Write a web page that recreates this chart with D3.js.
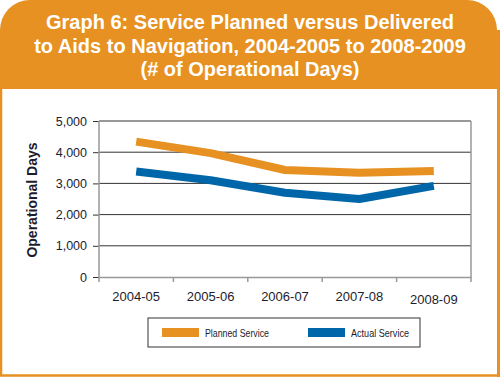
<!DOCTYPE html>
<html>
<head>
<meta charset="utf-8">
<script src="https://cdn.jsdelivr.net/npm/d3@7"></script>
<style>
  html, body { margin: 0; padding: 0; background: #fff; }
  svg { display: block; }
</style>
</head>
<body>
<script>
// chart data
const years = ['2004-05', '2005-06', '2006-07', '2007-08', '2008-09'];
const planned = [4340, 3970, 3430, 3340, 3400];
const actual = [3380, 3100, 2700, 2500, 2920];
const yTicks = [0, 1000, 2000, 3000, 4000, 5000];
const titleLines = [
  'Graph 6: Service Planned versus Delivered',
  'to Aids to Navigation, 2004-2005 to 2008-2009',
  '(# of Operational Days)'
];
const seriesNames = ['Planned Service', 'Actual Service'];
const legendWidths = [64, 58];

const W = 500, H = 377;
const orange = '#e69121';
const blue = '#0066aa';
const textCol = '#1c1c2c';

const svg = d3.select('body').append('svg')
  .attr('width', W)
  .attr('height', H);

// frame: white panel with orange border, orange header with round top corners
svg.append('rect')
  .attr('x', 1).attr('y', 60)
  .attr('width', W - 2.5).attr('height', H - 61.5)
  .attr('fill', '#fff')
  .attr('stroke', orange)
  .attr('stroke-width', 2.5);

const r = 30, hh = 89;
svg.append('path')
  .attr('d', `M0,${hh} L0,${r} A${r},${r} 0 0 1 ${r},0 L${W - r - 3},0 A${r},${r} 0 0 1 ${W - 3},${r} L${W - 3},${hh} Z`)
  .attr('fill', orange);
svg.append('rect')
  .attr('x', W - 3).attr('y', 30).attr('width', 3).attr('height', H - 30)
  .attr('fill', orange);

svg.append('g')
  .selectAll('text')
  .data(titleLines)
  .join('text')
  .attr('x', W / 2)
  .attr('y', (d, i) => 29 + i * 23.5)
  .attr('text-anchor', 'middle')
  .attr('fill', '#fff')
  .attr('font-family', '"Liberation Sans", Arial, sans-serif')
  .attr('font-weight', 'bold')
  .attr('font-size', 20)
  .text(d => d);

// plot area
const plot = { left: 99, right: 471, top: 121, bottom: 277 };

const x = d3.scaleBand()
  .domain(years)
  .range([plot.left, plot.right]);

const y = d3.scaleLinear()
  .domain([0, 5000])
  .range([plot.bottom, plot.top]);

// y ticks and labels
const yAxis = svg.append('g')
  .attr('transform', `translate(${plot.left},0)`)
  .call(d3.axisLeft(y)
    .tickValues(yTicks)
    .tickSize(6)
    .tickFormat(d3.format(',')));
yAxis.select('.domain').remove();
yAxis.selectAll('.tick line').attr('stroke', '#333');
yAxis.selectAll('.tick text')
  .attr('x', -12)
  .attr('fill', textCol)
  .attr('font-family', '"Liberation Sans", Arial, sans-serif')
  .attr('font-size', 12.5);

svg.append('g')
  .selectAll('line')
  .data(yTicks.filter(d => d > 0))
  .join('line')
  .attr('x1', plot.left).attr('x2', plot.right)
  .attr('y1', d => y(d)).attr('y2', d => y(d))
  .attr('stroke', '#333')
  .attr('stroke-width', 1);

// frame of plot: left axis, right border
svg.append('line')
  .attr('x1', plot.left).attr('x2', plot.left)
  .attr('y1', plot.top).attr('y2', plot.bottom + 5)
  .attr('stroke', '#999').attr('stroke-width', 1.5);
svg.append('line')
  .attr('x1', plot.right).attr('x2', plot.right)
  .attr('y1', plot.top).attr('y2', plot.bottom + 5)
  .attr('stroke', '#999').attr('stroke-width', 1.5);

const xAxis = svg.append('g')
  .attr('transform', `translate(0,${plot.bottom})`)
  .call(d3.axisBottom(x).tickSize(0).tickPadding(14));
xAxis.select('.domain').attr('stroke', '#999').attr('stroke-width', 1.5);
xAxis.selectAll('.tick text')
  .attr('fill', textCol)
  .attr('font-family', '"Liberation Sans", Arial, sans-serif')
  .attr('font-size', 13)
  .attr('dy', (d, i) => i === years.length - 1 ? '1.0em' : '0.75em');

// category boundary ticks
svg.append('g')
  .selectAll('line')
  .data(years.slice(1))
  .join('line')
  .attr('x1', d => x(d)).attr('x2', d => x(d))
  .attr('y1', plot.bottom).attr('y2', plot.bottom + 5)
  .attr('stroke', '#999').attr('stroke-width', 1.5);

// y axis title
svg.append('text')
  .attr('transform', `translate(37,200) rotate(-90)`)
  .attr('text-anchor', 'middle')
  .attr('fill', textCol)
  .attr('font-family', '"Liberation Sans", Arial, sans-serif')
  .attr('font-weight', 'bold')
  .attr('font-size', 14)
  .text('Operational Days');

// lines
const line = d3.line()
  .x((d, i) => x(years[i]) + x.bandwidth() / 2)
  .y(d => y(d));

[[planned, orange], [actual, blue]].forEach(([vals, col]) => {
  svg.append('path')
    .datum(vals)
    .attr('d', line)
    .attr('fill', 'none')
    .attr('stroke', col)
    .attr('stroke-width', 8)
    .attr('stroke-linejoin', 'round');
});

// legend
const lg = svg.append('g').attr('transform', 'translate(148,318)');
lg.append('rect')
  .attr('width', 272).attr('height', 29)
  .attr('fill', '#fff')
  .attr('stroke', '#333').attr('stroke-width', 1);

const items = lg.selectAll('g.item')
  .data(seriesNames)
  .join('g')
  .attr('class', 'item')
  .attr('transform', (d, i) => `translate(${14 + i * 146},10)`);
items.append('rect')
  .attr('width', 37).attr('height', 9)
  .attr('fill', (d, i) => i === 0 ? orange : blue);
items.append('text')
  .attr('x', 43).attr('y', 9)
  .attr('fill', textCol)
  .attr('font-family', '"Liberation Sans", Arial, sans-serif')
  .attr('font-size', 11.5)
  .attr('textLength', (d, i) => legendWidths[i])
  .attr('lengthAdjust', 'spacingAndGlyphs')
  .text(d => d);
</script>
</body>
</html>
